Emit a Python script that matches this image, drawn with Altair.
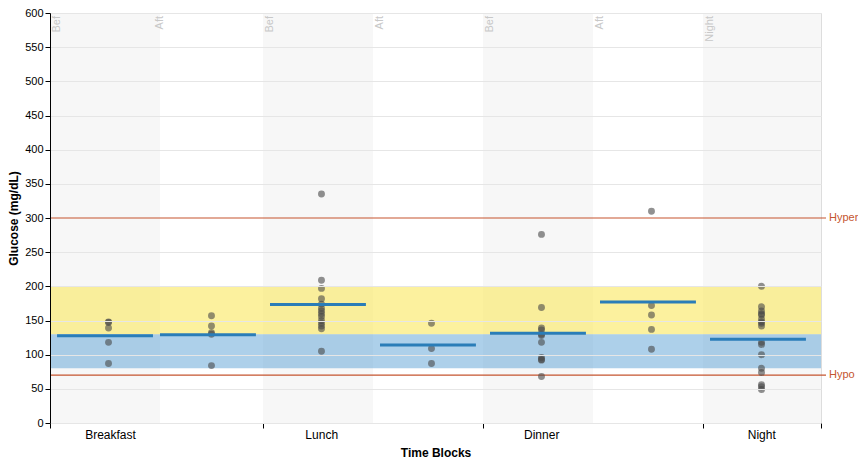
import altair as alt
import pandas as pd

# ---- data ----
block_names = ["Bef", "Aft", "Bef", "Aft", "Bef", "Aft", "Night"]
block_start = [0.0, 0.936, 1.936, 2.936, 3.936, 4.936, 5.936]
block_end = [1.0, 1.936, 2.936, 3.936, 4.936, 5.936, 6.936]

shade_start = [0.0, 1.936, 3.936, 5.936]
shade_end = [1.0, 2.936, 4.936, 7.009]

meal_labels = ["Breakfast", "Lunch", "Dinner", "Night"]
meal_label_pos = [0.55, 2.47, 4.47, 6.47]
meal_ticks = [0.0, 1.936, 3.936, 5.936, 7.009]

glucose = [
    [148, 147, 139, 118, 87],
    [157, 142, 132, 130, 84],
    [335, 209, 197, 182, 174, 168, 164, 160, 156, 150, 146, 142, 138, 105],
    [146, 109, 87],
    [276, 169, 139, 136, 130, 128, 118, 96, 93, 92, 68],
    [310, 172, 158, 137, 108],
    [200, 170, 164, 160, 158, 152, 148, 146, 142, 118, 115, 100, 80, 74, 56, 53, 49],
]

target_low, target_mid, target_high = 80, 130, 200
limit_names = ["Hyper", "Hypo"]
limit_values = [300, 70]

# ---- tables ----
pts = pd.DataFrame(
    [
        {"block": i, "x": block_start[i] + 0.532, "start": block_start[i], "end": block_end[i], "glucose": v}
        for i, vals in enumerate(glucose)
        for v in vals
    ]
)
blocks = pd.DataFrame({"name": block_names, "start": block_start, "end": block_end})
shades = pd.DataFrame({"start": shade_start, "end": shade_end})
meals = pd.DataFrame({"label": meal_labels, "x": meal_label_pos})
limits = pd.DataFrame({"name": limit_names, "value": limit_values})
bands = pd.DataFrame(
    {"lo": [target_mid, target_low], "hi": [target_high, target_mid], "kind": ["high", "low"]}
)

FONT = "Liberation Sans"
XMAX = 7.009
xscale = alt.Scale(domain=[0, XMAX], nice=False, zero=False)
yscale = alt.Scale(domain=[0, 600], nice=False)
xaxis = alt.Axis(
    values=meal_ticks, labels=False, grid=False, domainColor="black", tickColor="black",
    tickSize=5, title="Time Blocks", titleFontWeight="bold", titleFontSize=12,
    titleFont=FONT, titlePadding=19, titleColor="black",
)
yaxis = alt.Axis(
    values=list(range(0, 601, 50)), domainColor="black", tickColor="black", tickSize=5,
    labelFont=FONT, labelFontSize=11, labelColor="black", gridColor="#e6e6e6",
    gridOpacity={"condition": {"test": "datum.value == 300", "value": 0}, "value": 1},
    title="Glucose (mg/dL)", titleFontWeight="bold", titleFontSize=12, titleFont=FONT,
    titleColor="black", titlePadding=4, zindex=1,
)

X = lambda f: alt.X(f, type="quantitative", scale=xscale, axis=xaxis)
Y = lambda f: alt.Y(f, type="quantitative", scale=yscale, axis=yaxis)

shade_layer = alt.Chart(shades).mark_rect(color="#f7f7f7").encode(
    x=X("start"), x2="end", y=Y("hi:Q"), y2="lo:Q"
).transform_calculate(hi="600", lo="0")

band_layer = alt.Chart(bands).mark_rect().encode(
    x=alt.value(0), x2=alt.value(771),
    y=Y("hi"), y2="lo",
    color=alt.Color("kind:N", scale=alt.Scale(domain=["high", "low"], range=["#fbe96a", "#6aaad8"]), legend=None),
    opacity=alt.Opacity("kind:N", scale=alt.Scale(domain=["high", "low"], range=[0.65, 0.55]), legend=None),
)

limit_rules = alt.Chart(limits).mark_rule(color="#c5552f", strokeWidth=1.2).encode(
    x=alt.value(0), x2=alt.value(776), y=Y("value")
)
limit_text = alt.Chart(limits).mark_text(
    align="left", baseline="middle", color="#c5552f", font=FONT, fontSize=11
).encode(x=alt.value(779), y=Y("value"), text="name:N")

block_text = alt.Chart(blocks).mark_text(
    angle=270, align="right", baseline="top", color="#c8c8c8", font=FONT, fontSize=11, dx=-3, dy=1
).encode(x=X("start"), y=alt.value(0), text="name:N")

point_layer = alt.Chart(pts).mark_circle(size=48, color="#484848", opacity=0.6).encode(
    x=X("x"), y=Y("glucose")
)

mean_layer = alt.Chart(pts).transform_aggregate(
    mean_g="mean(glucose)", groupby=["block", "start", "end"]
).transform_calculate(
    xs="datum.start + 0.064", xe="datum.end - 0.064"
).mark_rule(color="#2a7db8", strokeWidth=3).encode(
    x=X("xs:Q"), x2="xe:Q", y=Y("mean_g:Q")
)

meal_text = alt.Chart(meals).mark_text(
    baseline="top", color="black", font=FONT, fontSize=12
).encode(x=X("x"), y=alt.value(417), text="label:N")

chart = alt.layer(
    shade_layer, band_layer, limit_rules, limit_text, block_text, point_layer, mean_layer, meal_text
).properties(
    width=771, height=410,
    autosize=alt.AutoSizeParams(type="none"),
    padding={"left": 42, "top": 5, "right": 37, "bottom": 40},
).configure_view(stroke="#e6e6e6").configure(background="white")

chart.save("out.html", embed_options={"renderer": "svg", "actions": False})
